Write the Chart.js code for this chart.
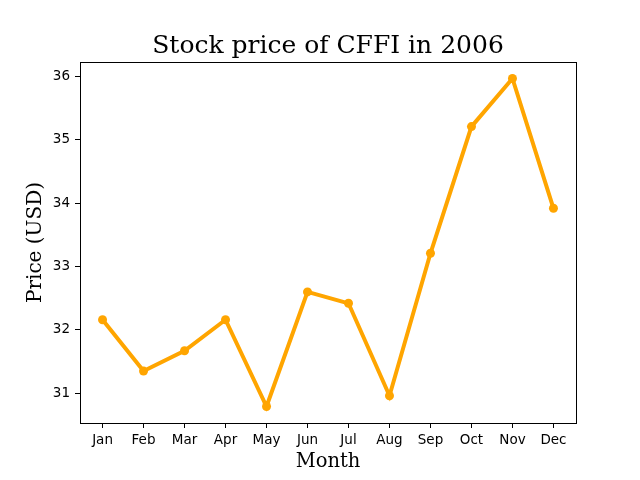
<!DOCTYPE html>
<html>
<head>
<meta charset="utf-8">
<script src="https://cdn.jsdelivr.net/npm/chart.js@4/dist/chart.umd.min.js"></script>
<style>
  html, body { margin: 0; padding: 0; background: #fff; }
  #c { display: block; }
</style>
</head>
<body>
<canvas id="c" width="640" height="480"></canvas>
<script>
const months = ["Jan","Feb","Mar","Apr","May","Jun","Jul","Aug","Sep","Oct","Nov","Dec"];
const prices = [32.16, 31.35, 31.67, 32.16, 30.79, 32.60, 32.42, 30.96, 33.21, 35.21, 35.97, 33.92];
const yTicks = [31, 32, 33, 34, 35, 36];
const titleText = "Stock price of CFFI in 2006";
const xLabel = "Month";
const yLabel = "Price (USD)";
const yMin = 30.53, yMax = 36.23;
const xMin = -0.55, xMax = 11.55;

const framePlugin = {
  id: 'frame',
  afterDatasetsDraw(chart) {
    const a = chart.chartArea, ctx = chart.ctx;
    ctx.save();
    ctx.strokeStyle = '#000';
    ctx.lineWidth = 1;
    ctx.strokeRect(Math.round(a.left) + 0.5, Math.round(a.top) + 0.5,
                   Math.round(a.right - a.left), Math.round(a.bottom - a.top));
    ctx.restore();
  }
};

new Chart(document.getElementById('c'), {
  type: 'line',
  data: {
    datasets: [{
      data: prices.map((y, i) => ({ x: i, y: y })),
      borderColor: '#FFA500',
      backgroundColor: '#FFA500',
      borderWidth: 4,
      pointRadius: 4.5,
      pointBorderWidth: 0,
      pointBackgroundColor: '#FFA500',
      tension: 0,
      fill: false
    }]
  },
  options: {
    responsive: false,
    animation: false,
    devicePixelRatio: 1,
    layout: { padding: { left: 0, right: 64, top: 0, bottom: 0 } },
    plugins: {
      legend: { display: false },
      tooltip: { enabled: false },
      title: {
        display: true,
        text: titleText,
        fullSize: false,
        color: '#000',
        font: { family: 'DejaVu Serif', size: 25, weight: 'normal', lineHeight: 1.2 },
        padding: { top: 31, bottom: 1 }
      }
    },
    scales: {
      x: {
        type: 'linear',
        min: xMin,
        max: xMax,
        afterBuildTicks: s => { s.ticks = months.map((m, i) => ({ value: i })); },
        afterFit: s => { s.height = 57; },
        border: { display: false },
        grid: { drawOnChartArea: false, drawTicks: true, tickLength: 5, color: '#000', lineWidth: 1 },
        ticks: {
          color: '#000',
          font: { family: 'DejaVu Sans', size: 13.5 },
          padding: 4,
          maxRotation: 0,
          autoSkip: false,
          callback: v => months[v]
        },
        title: {
          display: true,
          text: xLabel,
          color: '#000',
          font: { family: 'DejaVu Serif', size: 19.5 },
          padding: { top: 0, bottom: 6 }
        }
      },
      y: {
        type: 'linear',
        min: yMin,
        max: yMax,
        afterBuildTicks: s => { s.ticks = yTicks.map(v => ({ value: v })); },
        afterFit: s => { s.width = 80; },
        border: { display: false },
        grid: { drawOnChartArea: false, drawTicks: true, tickLength: 5, color: '#000', lineWidth: 1 },
        ticks: {
          color: '#000',
          font: { family: 'DejaVu Sans', size: 13.5 },
          padding: 5
        },
        title: {
          display: true,
          text: yLabel,
          color: '#000',
          font: { family: 'DejaVu Serif', size: 20 },
          padding: { top: 24, bottom: 0 }
        }
      }
    }
  },
  plugins: [framePlugin]
});
</script>
</body>
</html>
